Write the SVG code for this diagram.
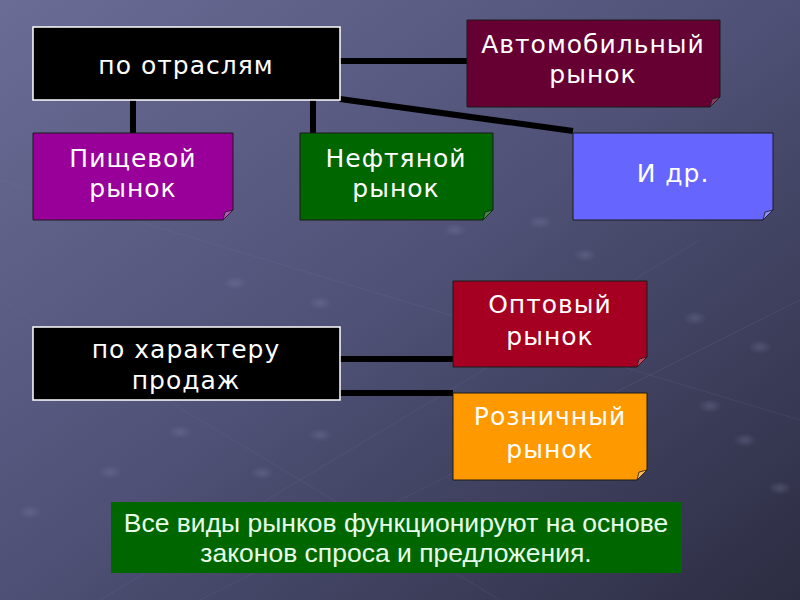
<svg xmlns="http://www.w3.org/2000/svg" width="800" height="600" viewBox="0 0 800 600">
<defs>
<linearGradient id="bg" x1="0" y1="0" x2="1" y2="1">
<stop offset="0" stop-color="#6a6c96"/>
<stop offset="0.5" stop-color="#4e5075"/>
<stop offset="1" stop-color="#2c2d42"/>
</linearGradient>
<radialGradient id="dot" cx="0.5" cy="0.5" r="0.5">
<stop offset="0" stop-color="#8a8cb0" stop-opacity="0.35"/>
<stop offset="1" stop-color="#8a8cb0" stop-opacity="0"/>
</radialGradient>
<style>
.hdr{fill:#000;stroke:#fff;stroke-width:1.5}
.box{stroke:#1a1a1a;stroke-width:1}
.fold{stroke:#1a1a1a;stroke-width:0.8}
.t{font-family:"DejaVu Sans",Verdana,sans-serif;font-size:25px;fill:#fff;text-anchor:middle;letter-spacing:1px}
.n{font-family:"Liberation Sans",Arial,sans-serif;font-size:26.5px;fill:#e8ffe8;text-anchor:middle}
.c{stroke:#000;stroke-width:6;fill:none}
</style>
</defs>
<rect width="800" height="600" fill="url(#bg)"/>
<g id="pattern" opacity="0.8">
<path d="M0 180 L800 420 M100 600 L700 240 M0 300 L500 600 M200 600 L800 300" stroke="#7c7ea6" stroke-width="0.7" stroke-opacity="0.3" fill="none"/>
<ellipse cx="235" cy="283" rx="12" ry="7" fill="url(#dot)"/>
<ellipse cx="320" cy="303" rx="12" ry="7" fill="url(#dot)"/>
<ellipse cx="265" cy="343" rx="12" ry="7" fill="url(#dot)"/>
<ellipse cx="180" cy="432" rx="12" ry="7" fill="url(#dot)"/>
<ellipse cx="320" cy="435" rx="12" ry="7" fill="url(#dot)"/>
<ellipse cx="110" cy="472" rx="12" ry="7" fill="url(#dot)"/>
<ellipse cx="262" cy="473" rx="12" ry="7" fill="url(#dot)"/>
<ellipse cx="30" cy="512" rx="12" ry="7" fill="url(#dot)"/>
<ellipse cx="545" cy="410" rx="12" ry="7" fill="url(#dot)"/>
<ellipse cx="710" cy="406" rx="12" ry="7" fill="url(#dot)"/>
<ellipse cx="745" cy="440" rx="12" ry="7" fill="url(#dot)"/>
<ellipse cx="780" cy="488" rx="12" ry="7" fill="url(#dot)"/>
<ellipse cx="695" cy="318" rx="12" ry="7" fill="url(#dot)"/>
<ellipse cx="760" cy="347" rx="12" ry="7" fill="url(#dot)"/>
<ellipse cx="585" cy="255" rx="12" ry="7" fill="url(#dot)"/>
<ellipse cx="455" cy="230" rx="12" ry="7" fill="url(#dot)"/>
<ellipse cx="540" cy="222" rx="12" ry="7" fill="url(#dot)"/>
</g>
<g id="connectors">
<line class="c" x1="340" y1="61" x2="467" y2="61"/>
<line class="c" x1="340" y1="99" x2="573" y2="131"/>
<line class="c" x1="133" y1="100" x2="133" y2="133"/>
<line class="c" x1="313" y1="100" x2="313" y2="133"/>
<line class="c" x1="340" y1="359" x2="453" y2="359"/>
<line class="c" x1="340" y1="393" x2="453" y2="393"/>
</g>
<g id="otraslyam">
<rect class="hdr" x="33" y="27" width="307" height="73"/>
<text class="t" x="186" y="74">по отраслям</text>
</g>
<g id="avto">
<path class="box" d="M467 20 H720 V97 L710 107 H467 Z" fill="#660033"/>
<path class="fold" d="M710 107 L712 99 L720 97 Z" fill="#8c3a5e"/>
<text class="t" x="593" y="53">Автомобильный</text>
<text class="t" x="593" y="83">рынок</text>
</g>
<g id="pishchevoy">
<path class="box" d="M33 133 H233 V210 L223 220 H33 Z" fill="#990099"/>
<path class="fold" d="M223 220 L225 212 L233 210 Z" fill="#c050c0"/>
<text class="t" x="133" y="167">Пищевой</text>
<text class="t" x="133" y="197">рынок</text>
</g>
<g id="neftyanoy">
<path class="box" d="M300 133 H493 V210 L483 220 H300 Z" fill="#006600"/>
<path class="fold" d="M483 220 L485 212 L493 210 Z" fill="#3c8c3c"/>
<text class="t" x="396" y="167">Нефтяной</text>
<text class="t" x="396" y="197">рынок</text>
</g>
<g id="idr">
<path class="box" d="M573 133 H773 V210 L763 220 H573 Z" fill="#6666ff"/>
<path class="fold" d="M763 220 L765 212 L773 210 Z" fill="#8c8cff"/>
<text class="t" x="673" y="182">И др.</text>
</g>
<g id="harakter">
<rect class="hdr" x="33" y="327" width="307" height="73"/>
<text class="t" x="186" y="358">по характеру</text>
<text class="t" x="186" y="389">продаж</text>
</g>
<g id="optovy">
<path class="box" d="M453 281 H647 V357 L637 367 H453 Z" fill="#a50021"/>
<path class="fold" d="M637 367 L639 359 L647 357 Z" fill="#c84a5e"/>
<text class="t" x="550" y="313">Оптовый</text>
<text class="t" x="550" y="345">рынок</text>
</g>
<g id="roznichny">
<path class="box" d="M453 393 H647 V470 L637 480 H453 Z" fill="#ff9900"/>
<path class="fold" d="M637 480 L639 472 L647 470 Z" fill="#ffbb55"/>
<text class="t" x="550" y="425">Розничный</text>
<text class="t" x="550" y="458">рынок</text>
</g>
<g id="note">
<rect x="111" y="502" width="571" height="71" fill="#006600"/>
<text class="n" x="396" y="532">Все виды рынков функционируют на основе</text>
<text class="n" x="396" y="562">законов спроса и предложения.</text>
</g>
</svg>
